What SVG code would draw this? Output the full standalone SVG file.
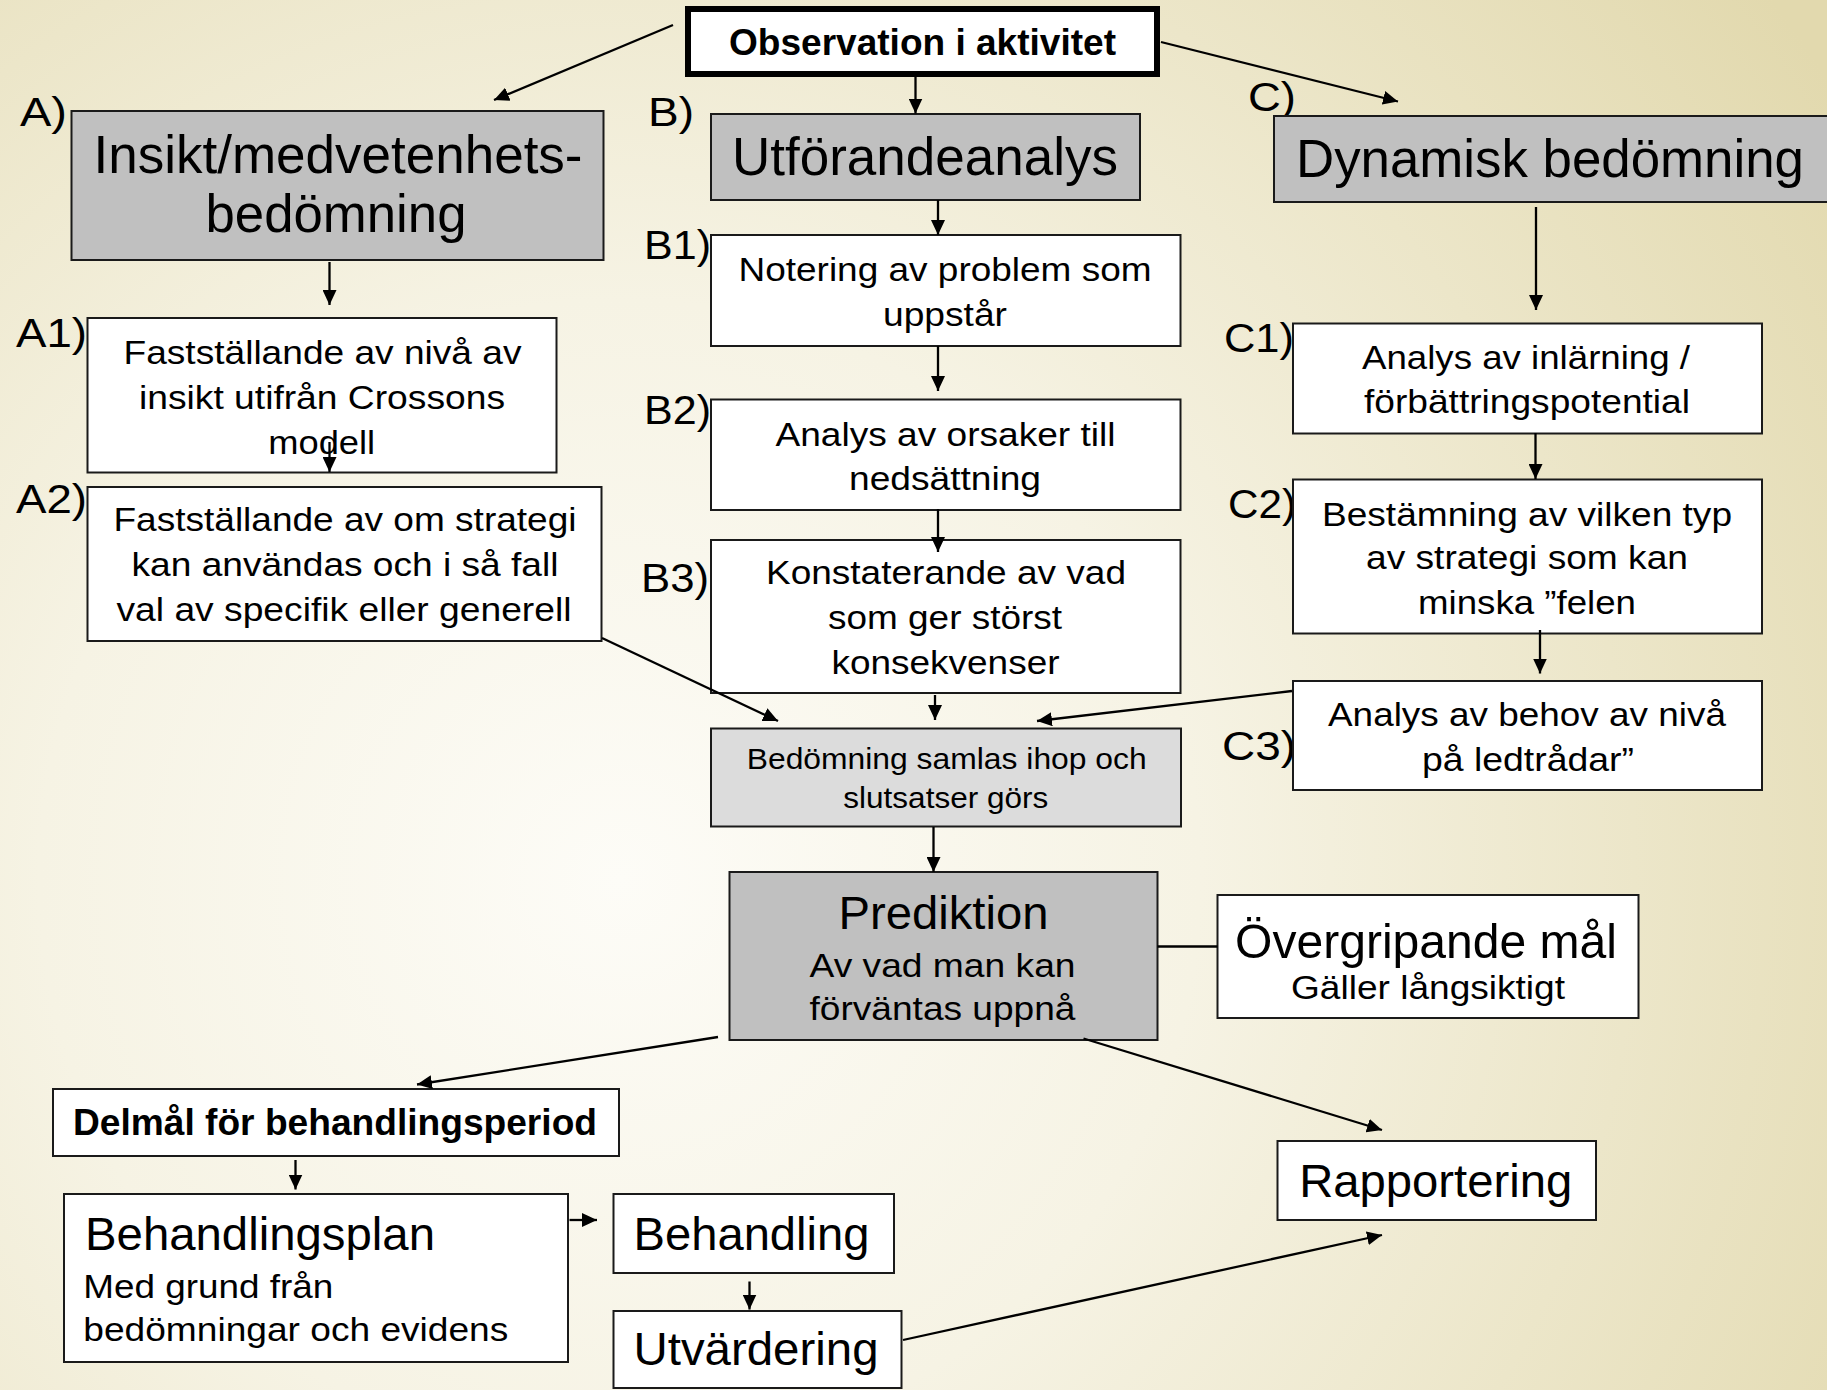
<svg xmlns="http://www.w3.org/2000/svg" width="1827" height="1390" viewBox="0 0 1827 1390">
<defs>
<radialGradient id="bg" gradientUnits="userSpaceOnUse" cx="620" cy="880" r="1450">
<stop offset="0" stop-color="#FDFCF7"/>
<stop offset="0.4" stop-color="#F6F3E4"/>
<stop offset="1" stop-color="#E2D9AE"/>
</radialGradient>
<marker id="ah" markerUnits="userSpaceOnUse" markerWidth="15" markerHeight="14" viewBox="0 0 15 14" refX="15" refY="7" orient="auto">
<path d="M0,0 L15,7 L0,14 z" fill="#000"/>
</marker>
<style>
.box{fill:#fff;stroke:#1a1a1a;stroke-width:2}
.gray{fill:#C0C0C0;stroke:#1a1a1a;stroke-width:2}
.light{fill:#DCDCDC;stroke:#1a1a1a;stroke-width:2}
text{font-family:"Liberation Sans",Arial,sans-serif;fill:#000}
.c{text-anchor:middle}
.lbl{font-size:40px}
.big{font-size:54px}
.mid{font-size:47px}
.sm{font-size:34px}
.b{font-weight:bold}
.con line{stroke:#000;stroke-width:2.3;fill:none}
.con .a{marker-end:url(#ah)}
</style>
</defs>
<rect x="0" y="0" width="1827" height="1390" fill="url(#bg)"/>

<g id="labels">
<text class="lbl" x="20" y="126" textLength="47" lengthAdjust="spacingAndGlyphs">A)</text>
<text class="lbl" x="648" y="126" textLength="46" lengthAdjust="spacingAndGlyphs">B)</text>
<text class="lbl" x="1248" y="111" textLength="48" lengthAdjust="spacingAndGlyphs">C)</text>
<text class="lbl" x="16" y="347" textLength="71" lengthAdjust="spacingAndGlyphs">A1)</text>
<text class="lbl" x="16" y="513" textLength="71" lengthAdjust="spacingAndGlyphs">A2)</text>
<text class="lbl" x="644" y="259" textLength="67" lengthAdjust="spacingAndGlyphs">B1)</text>
<text class="lbl" x="644" y="424" textLength="67" lengthAdjust="spacingAndGlyphs">B2)</text>
<text class="lbl" x="641" y="592" textLength="68" lengthAdjust="spacingAndGlyphs">B3)</text>
<text class="lbl" x="1224" y="352" textLength="70" lengthAdjust="spacingAndGlyphs">C1)</text>
<text class="lbl" x="1228" y="518" textLength="68" lengthAdjust="spacingAndGlyphs">C2)</text>
<text class="lbl" x="1222" y="760" textLength="74" lengthAdjust="spacingAndGlyphs">C3)</text>
</g>

<g id="observation">
<rect x="688" y="9" width="469" height="65" fill="#fff" stroke="#000" stroke-width="6"/>
<text class="c b" x="922.5" y="55" font-size="37" textLength="387" lengthAdjust="spacingAndGlyphs">Observation i aktivitet</text>
</g>

<g id="insikt">
<rect class="gray" x="71.5" y="111" width="532" height="149"/>
<text class="c big" x="338" y="173" textLength="489" lengthAdjust="spacingAndGlyphs">Insikt/medvetenhets-</text>
<text class="c big" x="336" y="232" textLength="261" lengthAdjust="spacingAndGlyphs">bedömning</text>
</g>

<g id="utforande">
<rect class="gray" x="711" y="114" width="429" height="86"/>
<text class="c big" x="925" y="175" textLength="386" lengthAdjust="spacingAndGlyphs">Utförandeanalys</text>
</g>

<g id="dynamisk">
<rect class="gray" x="1274" y="116" width="560" height="86"/>
<text class="c big" x="1550" y="177" textLength="508" lengthAdjust="spacingAndGlyphs">Dynamisk bedömning</text>
</g>

<g id="a1">
<rect class="box" x="87.5" y="318" width="469" height="154.5"/>
<text class="c sm" x="322.5" y="364" textLength="398" lengthAdjust="spacingAndGlyphs">Fastställande av nivå av</text>
<text class="c sm" x="322" y="409" textLength="366" lengthAdjust="spacingAndGlyphs">insikt utifrån Crossons</text>
<text class="c sm" x="321.7" y="454" textLength="107" lengthAdjust="spacingAndGlyphs">modell</text>
</g>

<g id="a2">
<rect class="box" x="87.5" y="487" width="514" height="154"/>
<text class="c sm" x="345" y="530.5" textLength="463" lengthAdjust="spacingAndGlyphs">Fastställande av om strategi</text>
<text class="c sm" x="345" y="575.5" textLength="427" lengthAdjust="spacingAndGlyphs">kan användas och i så fall</text>
<text class="c sm" x="344" y="620.5" textLength="455" lengthAdjust="spacingAndGlyphs">val av specifik eller generell</text>
</g>

<g id="b1">
<rect class="box" x="711" y="235" width="469.5" height="111"/>
<text class="c sm" x="945" y="280.5" textLength="413" lengthAdjust="spacingAndGlyphs">Notering av problem som</text>
<text class="c sm" x="945" y="325.5" textLength="124" lengthAdjust="spacingAndGlyphs">uppstår</text>
</g>

<g id="b2">
<rect class="box" x="711" y="399.5" width="469.5" height="110.5"/>
<text class="c sm" x="945.5" y="445.5" textLength="340" lengthAdjust="spacingAndGlyphs">Analys av orsaker till</text>
<text class="c sm" x="945" y="490" textLength="192" lengthAdjust="spacingAndGlyphs">nedsättning</text>
</g>

<g id="b3">
<rect class="box" x="711" y="540" width="469.5" height="153"/>
<text class="c sm" x="946" y="584" textLength="360" lengthAdjust="spacingAndGlyphs">Konstaterande av vad</text>
<text class="c sm" x="945" y="628.5" textLength="234" lengthAdjust="spacingAndGlyphs">som ger störst</text>
<text class="c sm" x="945.5" y="673.5" textLength="228" lengthAdjust="spacingAndGlyphs">konsekvenser</text>
</g>

<g id="c1">
<rect class="box" x="1293" y="323.5" width="469" height="110"/>
<text class="c sm" x="1526" y="369" textLength="328" lengthAdjust="spacingAndGlyphs">Analys av inlärning /</text>
<text class="c sm" x="1527" y="412.5" textLength="326" lengthAdjust="spacingAndGlyphs">förbättringspotential</text>
</g>

<g id="c2">
<rect class="box" x="1293" y="479.5" width="469" height="154"/>
<text class="c sm" x="1527" y="525.5" textLength="410" lengthAdjust="spacingAndGlyphs">Bestämning av vilken typ</text>
<text class="c sm" x="1527" y="569" textLength="322" lengthAdjust="spacingAndGlyphs">av strategi som kan</text>
<text class="c sm" x="1527" y="614" textLength="218" lengthAdjust="spacingAndGlyphs">minska ”felen</text>
</g>

<g id="c3">
<rect class="box" x="1293" y="681" width="469" height="109"/>
<text class="c sm" x="1527" y="725.5" textLength="398" lengthAdjust="spacingAndGlyphs">Analys av behov av nivå</text>
<text class="c sm" x="1528" y="770.5" textLength="212" lengthAdjust="spacingAndGlyphs">på ledtrådar”</text>
</g>

<g id="samlas">
<rect class="light" x="711" y="728.5" width="470" height="98"/>
<text class="c" x="946.7" y="769" font-size="30" textLength="400" lengthAdjust="spacingAndGlyphs">Bedömning samlas ihop och</text>
<text class="c" x="945.8" y="807.5" font-size="30" textLength="205" lengthAdjust="spacingAndGlyphs">slutsatser görs</text>
</g>

<g id="prediktion">
<rect class="gray" x="729.5" y="872" width="428" height="168"/>
<text class="c mid" x="943.5" y="929" textLength="210" lengthAdjust="spacingAndGlyphs">Prediktion</text>
<text class="c sm" x="942.5" y="976.5" textLength="266" lengthAdjust="spacingAndGlyphs">Av vad man kan</text>
<text class="c sm" x="942.5" y="1019.5" textLength="266" lengthAdjust="spacingAndGlyphs">förväntas uppnå</text>
</g>

<g id="overgripande">
<rect class="box" x="1217.5" y="895" width="421" height="123"/>
<text class="c" x="1426" y="958" font-size="48" textLength="382" lengthAdjust="spacingAndGlyphs">Övergripande mål</text>
<text class="c sm" x="1428" y="999" textLength="274" lengthAdjust="spacingAndGlyphs">Gäller långsiktigt</text>
</g>

<g id="delmal">
<rect class="box" x="53" y="1089" width="566" height="67"/>
<text class="c b" x="335" y="1134.5" font-size="36" textLength="524" lengthAdjust="spacingAndGlyphs">Delmål för behandlingsperiod</text>
</g>

<g id="behandlingsplan">
<rect class="box" x="64" y="1194" width="504" height="168"/>
<text class="mid" x="85" y="1250" textLength="350" lengthAdjust="spacingAndGlyphs">Behandlingsplan</text>
<text class="sm" x="83.3" y="1297.5" textLength="250" lengthAdjust="spacingAndGlyphs">Med grund från</text>
<text class="sm" x="83.3" y="1340.5" textLength="425" lengthAdjust="spacingAndGlyphs">bedömningar och evidens</text>
</g>

<g id="behandling">
<rect class="box" x="613.5" y="1194" width="280.5" height="79"/>
<text class="c mid" x="751.5" y="1250" textLength="236" lengthAdjust="spacingAndGlyphs">Behandling</text>
</g>

<g id="utvardering">
<rect class="box" x="613.5" y="1311" width="288" height="77"/>
<text class="c mid" x="756" y="1365" textLength="245" lengthAdjust="spacingAndGlyphs">Utvärdering</text>
</g>

<g id="rapportering">
<rect class="box" x="1277.5" y="1141" width="318.5" height="79"/>
<text class="c mid" x="1435.7" y="1197" textLength="273" lengthAdjust="spacingAndGlyphs">Rapportering</text>
</g>

<g id="connectors" class="con">
<line class="a" x1="673" y1="25" x2="494" y2="100"/>
<line class="a" x1="915.5" y1="77" x2="915.5" y2="113.5"/>
<line class="a" x1="1161" y1="42" x2="1398" y2="101.5"/>
<line class="a" x1="329.5" y1="262" x2="329.5" y2="305"/>
<line class="a" x1="329.5" y1="442" x2="329.5" y2="472"/>
<line class="a" x1="938" y1="200" x2="938" y2="235"/>
<line class="a" x1="938" y1="346" x2="938" y2="391"/>
<line class="a" x1="938" y1="509" x2="938" y2="552"/>
<line class="a" x1="1536" y1="207" x2="1536" y2="310"/>
<line class="a" x1="1535.5" y1="433" x2="1535.5" y2="479"/>
<line class="a" x1="1540" y1="630" x2="1540" y2="673.5"/>
<line class="a" x1="602" y1="638" x2="778" y2="721"/>
<line class="a" x1="935" y1="695" x2="935" y2="720"/>
<line class="a" x1="1292" y1="691" x2="1037" y2="721"/>
<line class="a" x1="933.5" y1="827" x2="933.5" y2="872"/>
<line x1="1157.5" y1="946.5" x2="1217.5" y2="946.5"/>
<line class="a" x1="718" y1="1037" x2="417" y2="1084.5"/>
<line class="a" x1="1083.5" y1="1038.5" x2="1382" y2="1130"/>
<line class="a" x1="295.5" y1="1160" x2="295.5" y2="1189.5"/>
<line class="a" x1="569.5" y1="1220" x2="597" y2="1220"/>
<line class="a" x1="749.5" y1="1281.5" x2="749.5" y2="1309.5"/>
<line class="a" x1="903" y1="1340" x2="1382" y2="1235"/>
</g>
</svg>
